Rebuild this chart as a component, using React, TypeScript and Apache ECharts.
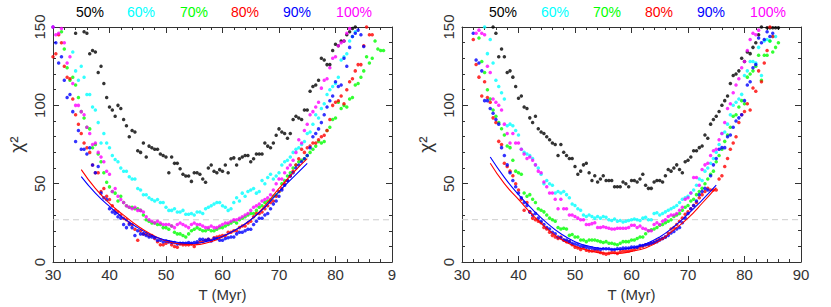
import React, { useEffect, useRef } from "react";
import * as echarts from "echarts";

// Sampling step of the T grid (Myr)
const STEP = 0.5;

// Legend labels and colours
const LABELS = ["50%", "60%", "70%", "80%", "90%", "100%"];
const COLORS = ["#000000", "#00ffff", "#00ff00", "#ff0000", "#0000ff", "#ff00ff"];

// X tick labels
const X_TICKS_LEFT: Record<number, string> = { 30: "30", 40: "40", 50: "50", 60: "60", 70: "70", 80: "80", 90: "9" };
const X_TICKS_RIGHT: Record<number, string> = { 30: "30", 40: "40", 50: "50", 60: "60", 70: "70", 80: "80", 90: "90" };

// Reference chi^2 level (dashed line)
const REF_LEVEL = 27;

// ---------- Left panel ----------
const left50Start = 34;
const left50 = [146,152,155,147,146,133,135,134,121,125,114,105,99,97,93,100,98,91,87,80,84,83,71,70,76,67,74,73,72,72,69,68,67,57,67,63,63,59.5,56,55,55,51.5,57,57,56,53,51,60,62,58,57,59,58,62,57,66,66.5,62,66,67,68,68,64,66,69,69,69,76,74,73,76,81,85,83,82,79,82,91,93,92,91,97,97,109,112,113,116,130,129,126,126,135,139,138,141,141,145,147,149,150];
const left60Start = 33.5;
const left60 = [134,122,116,125,118,107,107,99,97,89,76,82,76,73,68,65.5,64,60,58,58,54.5,53,53,47,46,43,43,41,40,39,40,38,38,35,33,33,34,32,32,33,30.5,30.5,31,30,32,32,31,34,35,36,37,38,38,36,35,33,34,38,41,39,44,42,45,46,47,44,45,52,50,54,56,53,55,57,62,64,65,67,70,72,73,75,77,82,83,88,94,92,98,101,107,110,112,114,118,129,131,133,141,144,147];
const left70Start = 31.5;
const left70 = [147,136,124,116,118,113,105,96,92,86,85,73,75,69,64,57,51,48,45,44,39,42,38,36,35,35,34,34,33,30,27,26,25,25,24,24,22,22,21,23,19,18,18,17,16,18,20,21,22,21,20,20,21,20,20,21,22,22,23,24,25,26,25,27,28,29,30,31,31,33,35,36,38,39,40,42,43,45,50,52,55,57,60,62,64,65,66,68,70,72,74,77,76,77,84,86,91,92,102,98,100,99,104,105,113,114,118,122,131,127,130,141,136,135,135];
const left80Start = 30;
const left80 = [131,133,145,140,125,118,117,104,94,88,82,76,73,70,62,57,57,45,47,42,40,36,33,32,30,28,27,25,24,21,14,20,18,18,17,17,15,13,11,11,12,13,11,10,9.5,11.5,11,11,11,11.5,10,12,13,13,14,14.5,14,15.5,16,16.5,17,17,19,19,20,20,22,23,23,25,26,29,31,31,32,34,36,38,39,42,45,47,50,52,55,58,62,66,72,70,73,74,76,76,78,80,81,84,91,100,102,103,106,101,110,115,117,122,126,126,138,150,145,145];
const left90Start = 30;
const left90 = [150,140,127,131,116,105,107,96,77,84,72,72,69,73,62,57,61,44,41,40,34,32,31,29,28,24,22,24,22,17,20,18,18,17,16,16,15.5,14,14,13,13.5,13,12.5,12.5,11.5,12,12,12,12.5,12,12.5,13,14.5,14.5,14,14.5,13.5,15,15,14,14,15,15.5,16,16,18,19,19,20,21,21,24,26,28,28,30,31,34,37,39,42,46,49,52,55,57,60,62,64,66,68,73,80,82,85,89,94,99,103,106,115,112,113,130,125,137,144,146,148,145,137.5];
const left100Start = 30;
const left100 = [150,145,146,149,140,127,131,114,100,100,96,94,86,82,75,76,70,67,64,58,56,45,47,42,40,38,36,35,34,35,33,33,32,29,27,26,25,26,25,24,24,24,23,22,24,25,24,23,22,24,25,24,24,23,22,22,23,22,22,23,24,25,25,26,27,27,28,29,30,31,33,35,36,37,39,40,41,43,46,50,53,53,57,60,62,65,70,78,76,84,88,94,96,99,102,111,116,117,124,130,131,138,140,141,146,149];

// Fitted curves (T from 35 to 75, every 2.5 Myr)
const FIT_T = [35,37.5,40,42.5,45,47.5,50,52.5,55,57.5,60,62.5,65,67.5,70,72.5,75];
const leftFitRed = [59,47,37.5,30,23,17.5,13.5,11.5,11,12.5,16,21,27,36,47,57,66];
const leftFitBlue = [54.5,44,35.5,28,22,17,14,12.5,12,13.5,16.5,21,27,35,45,54,63];

// ---------- Right panel ----------
const right50Start = 35.5;
const right50 = [150,146,131,136,131,121,122,118,112,104.5,106,99,98,92,89,93,85,83,82,80,78,76,75,68,75,70,68,66,66,61,56,58,62,63,57,52,55,51,53,55,52,52,52,48,48,48,51,50,48,52,52,51,53,56,49,47,47,51,52,52,51,55,59,58,60,62,59,57,64,65,67,71,71,73,74,81,79,88,91,93,96,100,103,106,114,119,120,122,130,128,134,133,137,140,145,150,152,149.5,149.5,149.5,149.5,149.5];
const right60Start = 34;
const right60 = [150,133,142,127,116,112,108,104,87,88,87,84,81,72,70,69,68,66,62,60,56,50,52,50,49,44,45,44,45,43,41,37,36,34,33,30,29,30,29,28,29,28,29,28.5,27,26.5,27.5,26,26.5,25.5,26,26.5,27,27.5,27,26.5,28,28.5,27,27,31,31.5,30,31,32,33,34,35,36,38,40,41,42,44,46,49,53,52,58,60,63,66,70,75,82,83,88,94,100,102,104,107,119,122,128,128,127,137,119,141,142,141,144,144];
const right70Start = 33;
const right70 = [143,128,121,110,104,97,93,89,85,81,74,73,65,58,57,56,44,42,43,40,38,34,33,32,30,28,27,26,22,21,21.5,21,17,17.5,16,16,14,14,13,14,14,14,13.5,13,12.5,13,12,12,11.5,11,12,13,13,13,14,14,15,16,16,18,20,20.5,21,22,23.5,24,25,26,27,29,30,31,33,35,36,39,40,43,45,47,50,53,56,58,64,68,72,77,81,86,93,94,99,103,101,118,120,122,125,132,116,132,132,141,134,137,140];
const right80Start = 32;
const right80 = [142,126,118,106,115,105,102,92,89,77,75,63,61,58,55,50,46,40,33,38,32,28,27,26,25,22,21,19,17,16,15,16,14,13,13,11,9.5,9,8,9,7.5,7,7,7.5,7,6,5.5,5,5.5,6,6,5.5,6.5,7,7,7,7.5,8,9,9.5,10,11,11,12,12.5,13.5,14.5,15,16,18.5,21,22,24,26,28,30.5,32,34,36,38,41,43,45,47,46,46,46,53,55,61,66,72,76,80,89,94,96,101,97,111,109,122,115,127,135,150,144];
const right90Start = 32;
const right90 = [146,129,127,122,103,103,98,95,91,88,73,68,62,57,52,48,44,41,38,36,32,30,31,28,26,24,22,21,19,18,16,15.5,14,14,13,12,11.5,11,10,10,9.5,9,9,8.5,8.5,8,8.5,8.5,8.5,8,8,8.5,8.5,9,9,9,9.5,9.5,9.5,10.5,10.5,11,11.5,12,12.5,13,14,15,16,17,18.5,19.5,21,22,25,28,31,34,36,39,43,45,47,46,55,62,66,72,73,73,80,81,86,90,92,94,103,113,115,124,126,143,140,142,147,144,146];
const right100Start = 32.5;
const right100 = [146,148,146,145,125,121,104,102,100,97,88,82,76,82,76,76,72,69,66,67,65,62,58,57,51,48,44,44,40,34,40,34,34,30,30,29,28,27,27,24,24,24.5,25,22,22,22.5,22,21.5,21,21,21.5,21.5,21.5,21.5,22,23.5,23.5,22,23,21.5,21,20,20,24,25,24,26,27,29,30,30,31,33,35,40,41,44,54,54,49,59,62,63,68,71,72,78,82,89,98,101,108,113,117,124,128,135,142,146,145,148];

const rightFitRed = [63,50,40,30,21.5,14.5,10,7.3,5.7,5.5,6.8,9,13.5,20.5,28,37.5,47.5];
const rightFitBlue = [67,54,43,33.5,25,18,13,10,8.5,8,9,11.5,16,22.5,30.5,39.5,49];

const LEFT_SETS: [number, number[]][] = [
  [left50Start, left50], [left60Start, left60], [left70Start, left70],
  [left80Start, left80], [left90Start, left90], [left100Start, left100],
];
const RIGHT_SETS: [number, number[]][] = [
  [right50Start, right50], [right60Start, right60], [right70Start, right70],
  [right80Start, right80], [right90Start, right90], [right100Start, right100],
];

const FONT = "'Liberation Sans', Arial, Helvetica, sans-serif";
const AXIS_COLOR = "#333";

function toPoints(start: number, values: number[]) {
  return values.map((v, i) => [start + i * STEP, v]);
}
function fitPoints(values: number[]) {
  return values.map((v, i) => [FIT_T[i], v]);
}

function xAxisDef(gridIndex: number, position: "bottom" | "top", labels: Record<number, string> | null) {
  return {
    type: "value",
    gridIndex,
    position,
    min: 30,
    max: 90,
    interval: 10,
    axisLine: { show: true, onZero: false, lineStyle: { color: AXIS_COLOR, width: 1 } },
    axisTick: { show: true, inside: true, length: 6, lineStyle: { color: AXIS_COLOR } },
    minorTick: { show: true, splitNumber: 5, length: 3, lineStyle: { color: AXIS_COLOR } },
    splitLine: { show: false },
    minorSplitLine: { show: false },
    axisLabel: labels
      ? {
          show: true,
          margin: 5,
          fontSize: 15,
          fontFamily: FONT,
          color: AXIS_COLOR,
          showMinLabel: true,
          showMaxLabel: true,
          formatter: (v: number) => labels[v] ?? String(v),
        }
      : { show: false },
    name: labels ? "T (Myr)" : "",
    nameLocation: "middle",
    nameGap: 24,
    nameTextStyle: { fontSize: 15, fontFamily: FONT, color: AXIS_COLOR },
  };
}

function yAxisDef(gridIndex: number, position: "left" | "right", withLabels: boolean) {
  return {
    type: "value",
    gridIndex,
    position,
    min: 0,
    max: 150,
    interval: 50,
    axisLine: { show: true, onZero: false, lineStyle: { color: AXIS_COLOR, width: 1 } },
    axisTick: { show: true, inside: true, length: 6, lineStyle: { color: AXIS_COLOR } },
    minorTick: { show: true, splitNumber: 5, length: 3, lineStyle: { color: AXIS_COLOR } },
    splitLine: { show: false },
    minorSplitLine: { show: false },
    axisLabel: withLabels
      ? { show: true, rotate: 90, margin: 6, fontSize: 15, fontFamily: FONT, color: AXIS_COLOR, showMinLabel: true, showMaxLabel: true }
      : { show: false },
    name: withLabels ? "χ²" : "",
    nameLocation: "middle",
    nameRotate: 90,
    nameGap: 27,
    nameTextStyle: { fontSize: 19, fontFamily: FONT, color: AXIS_COLOR },
  };
}

const LEGEND_X_LEFT = [90, 141, 194, 245, 297, 354];
const LEGEND_X_RIGHT = [503, 555, 607, 659, 711, 768];

export default function App() {
  const ref = useRef<HTMLDivElement>(null);

  useEffect(() => {
    if (!ref.current) return;
    const chart = echarts.init(ref.current, null, { renderer: "svg" });

    const series: any[] = [];
    const panels = [
      { sets: LEFT_SETS, xi: 0, yi: 0, fitR: leftFitRed, fitB: leftFitBlue },
      { sets: RIGHT_SETS, xi: 2, yi: 2, fitR: rightFitRed, fitB: rightFitBlue },
    ];
    panels.forEach((p) => {
      series.push({
        type: "line",
        xAxisIndex: p.xi,
        yAxisIndex: p.yi,
        data: [[30, REF_LEVEL], [90, REF_LEVEL]],
        symbol: "none",
        silent: true,
        lineStyle: { color: "#cccccc", width: 1, type: [6, 4] },
        z: 1,
      });
      p.sets.forEach(([start, vals], k) => {
        series.push({
          type: "scatter",
          name: LABELS[k],
          xAxisIndex: p.xi,
          yAxisIndex: p.yi,
          data: toPoints(start, vals),
          symbol: "circle",
          symbolSize: 3.5,
          clip: true,
          silent: true,
          itemStyle: { color: COLORS[k] },
          z: 2,
        });
      });
      series.push({
        type: "line",
        xAxisIndex: p.xi,
        yAxisIndex: p.yi,
        data: fitPoints(p.fitR),
        symbol: "none",
        smooth: true,
        silent: true,
        lineStyle: { color: "#ff0000", width: 1.1 },
        z: 3,
      });
      series.push({
        type: "line",
        xAxisIndex: p.xi,
        yAxisIndex: p.yi,
        data: fitPoints(p.fitB),
        symbol: "none",
        smooth: true,
        silent: true,
        lineStyle: { color: "#0000ff", width: 1.1 },
        z: 3,
      });
    });

    const legendTexts: any[] = [];
    [LEGEND_X_LEFT, LEGEND_X_RIGHT].forEach((xs) => {
      xs.forEach((x, k) => {
        legendTexts.push({
          type: "text",
          x,
          y: 12,
          style: {
            text: LABELS[k],
            fill: COLORS[k],
            fontSize: 14,
            fontFamily: FONT,
            align: "center",
            verticalAlign: "middle",
          },
        });
      });
    });

    chart.setOption({
      animation: false,
      backgroundColor: "#ffffff",
      grid: [
        { left: 53, top: 27, width: 339, height: 236, containLabel: false },
        { left: 462, top: 27, width: 339, height: 235, containLabel: false },
      ],
      xAxis: [
        xAxisDef(0, "bottom", X_TICKS_LEFT),
        xAxisDef(0, "top", null),
        xAxisDef(1, "bottom", X_TICKS_RIGHT),
        xAxisDef(1, "top", null),
      ],
      yAxis: [
        yAxisDef(0, "left", true),
        yAxisDef(0, "right", false),
        yAxisDef(1, "left", true),
        yAxisDef(1, "right", false),
      ],
      graphic: legendTexts,
      series,
    });

    return () => chart.dispose();
  }, []);

  return (
    <div
      ref={ref}
      style={{ position: "absolute", left: 0, top: 0, width: 831, height: 307 }}
    />
  );
}
